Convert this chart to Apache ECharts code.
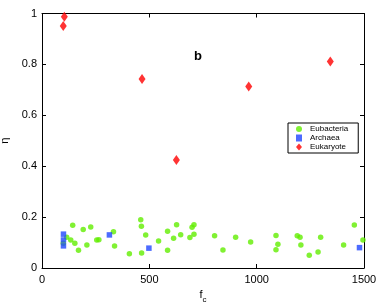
<!DOCTYPE html>
<html><head><meta charset="utf-8">
<script src="https://cdn.jsdelivr.net/npm/echarts@6/dist/echarts.min.js"></script>
<style>html,body{margin:0;padding:0;background:#fff}#c{width:382px;height:303px}</style>
</head><body><div id="c"></div>
<script>
var eubacteria = [
 [99,0.097],[115,0.121],[134,0.110],[143,0.168],[153,0.097],[170,0.070],[192,0.151],[209,0.090],
 [227,0.161],[255,0.110],[265,0.111],[333,0.142],[338,0.086],[407,0.056],[460,0.190],[463,0.164],
 [464,0.059],[483,0.130],[543,0.106],[585,0.144],[585,0.070],[613,0.117],[627,0.170],[646,0.131],
 [689,0.120],[699,0.160],[708,0.170],[708,0.133],[804,0.127],[843,0.071],[902,0.121],[972,0.102],
 [1090,0.128],[1090,0.072],[1099,0.093],[1189,0.127],[1202,0.121],[1206,0.090],[1245,0.050],
 [1286,0.063],[1298,0.121],[1405,0.090],[1455,0.169],[1495,0.110]
];
var archaea = [[100,0.133],[100,0.110],[100,0.087],[314,0.130],[498,0.078],[1479,0.080]];
var eukaryote = [[104,0.987],[99,0.951],[466,0.743],[626,0.424],[963,0.713],[1343,0.811]];
var xTicks = [0,500,1000,1500];
var yTicks = [0,0.2,0.4,0.6,0.8,1];

var chart = echarts.init(document.getElementById('c'));
var font = 'Liberation Sans, Arial, sans-serif';
var axCommon = {
  axisLine:{show:true,onZero:false,lineStyle:{color:'#000',width:1}},
  axisTick:{show:true,inside:true,length:4,lineStyle:{color:'#000'}},
  splitLine:{show:false}
};
chart.setOption({
  animation:false,
  textStyle:{fontFamily:font},
  grid:{left:42,right:18,top:13.5,bottom:35,show:false,containLabel:false,outerBoundsMode:'none'},
  title:{text:'b',left:189,top:45,textStyle:{fontSize:13,fontWeight:'bold',color:'#000',fontFamily:font}},
  legend:{
    orient:'vertical',left:288,top:123,
    width:65,
    padding:[2,10,2,8],
    itemGap:1,itemWidth:6,itemHeight:7,
    borderColor:'#000',borderWidth:1,backgroundColor:'#fff',
    textStyle:{fontSize:8,color:'#000',fontFamily:font,padding:[0,0,0,3]},
    data:[{name:'Eubacteria',icon:'circle'},{name:'Archaea',icon:'rect'},{name:'Eukaryote',icon:'diamond'}]
  },
  xAxis:[
    Object.assign({type:'value',min:xTicks[0],max:xTicks[xTicks.length-1],interval:500,
      name:'{f|f}{s|c}',nameLocation:'middle',nameGap:19,
      nameTextStyle:{rich:{f:{fontSize:11,color:'#000',fontFamily:font},s:{fontSize:8,color:'#000',verticalAlign:'bottom',padding:[8,0,0,0],fontFamily:font}}},
      axisLabel:{color:'#000',fontSize:11,margin:6,fontFamily:font,formatter:function(v){return String(v);}}},axCommon),
    Object.assign({type:'value',position:'top',min:0,max:1500,interval:500,axisLabel:{show:false}},axCommon)
  ],
  yAxis:[
    Object.assign({type:'value',min:yTicks[0],max:yTicks[yTicks.length-1],interval:0.2,
      name:'η',nameLocation:'middle',nameGap:30,nameRotate:90,
      nameTextStyle:{fontSize:11,color:'#000',fontFamily:font},
      axisLabel:{color:'#000',fontSize:11,margin:5,fontFamily:font,formatter:function(v){return String(Math.round(v*10)/10);}}},axCommon),
    Object.assign({type:'value',position:'right',min:0,max:1,interval:0.2,axisLabel:{show:false}},axCommon)
  ],
  series:[
    {name:'Eubacteria',type:'scatter',data:eubacteria,symbol:'circle',symbolSize:5.5,itemStyle:{color:'#62ee00'}},
    {name:'Archaea',type:'scatter',data:archaea,symbol:'rect',symbolSize:5.5,itemStyle:{color:'#2146ff'}},
    {name:'Eukaryote',type:'scatter',data:eukaryote,symbol:'diamond',symbolSize:[7,10],itemStyle:{color:'#ff0000'}}
  ]
});
</script></body></html>
